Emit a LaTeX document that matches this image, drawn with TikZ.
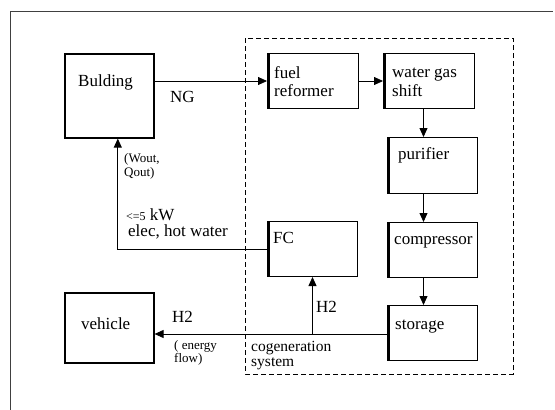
\documentclass[tikz,border=0pt]{standalone}
\usepackage{fontspec}
\setmainfont{Liberation Serif}
\usetikzlibrary{arrows.meta}

\tikzset{
  box/.style={draw, line width=1pt, anchor=north west, inner sep=0pt},
  edge/.style={line width=3pt},
  flow/.style={line width=.8pt, -{Triangle[length=9pt,width=8pt]}},
  lbl/.style={anchor=base west, inner sep=0pt, font=\fontsize{17}{18}\selectfont},
  small/.style={anchor=base west, inner sep=0pt, font=\fontsize{13}{14}\selectfont}
}

\begin{document}
\begin{tikzpicture}[x=1pt,y=-1pt]
				\useasboundingbox (0,0) rectangle (555,410);
				
				% outer frame (only top and left edges show)
				\draw[line width=1pt, black!75] (10,410) -- (10,11) -- (553,11);
				% cogeneration system
				\draw[dashed, line width=.8pt, dash pattern=on 5pt off 3pt] (245,38) rectangle (513,374);
				
				\node[box, line width=1.6pt, minimum width=89pt, minimum height=84pt] (build) at (64,53) {};
				\node[box, line width=1.6pt, minimum width=89pt, minimum height=70pt] (veh) at (64,292) {};
				\node[box, minimum width=91pt, minimum height=55pt] (fuel) at (267,53) {};
				\node[box, minimum width=91pt, minimum height=55pt] (wgs) at (383,53) {};
				\node[box, minimum width=90pt, minimum height=56pt] (pur) at (387,137) {};
				\node[box, minimum width=90pt, minimum height=55pt] (comp) at (387,222) {};
				\node[box, minimum width=90pt, minimum height=55pt] (stor) at (387,305) {};
				\node[box, minimum width=90pt, minimum height=55pt] (fc) at (267,221) {};
				
				\foreach \b in {fuel,wgs,pur,comp,stor,fc}
				\draw[edge] ([xshift=1pt]\b.north west) -- ([xshift=1pt]\b.south west);
				
				% texts in the boxes
				\node[lbl] (tbuild) at (78,86) {Bulding};
				\node[lbl] (tveh) at (81,329) {vehicle};
				\node[lbl] (tfuel) at (274,78) {fuel};
				\node[lbl] (tref) at (274,96) {reformer};
				\node[lbl] (twgs) at (392,77) {water gas};
				\node[lbl] (tshift) at (392,96) {shift};
				\node[lbl] (tpur) at (398,159) {purifier};
				\node[lbl] (tcomp) at (394,244) {compressor};
				\node[lbl] (tstor) at (395,329) {storage};
				\node[lbl] (tfc) at (273,243) {FC};
				
				% connectors
				\draw[flow] (build.east |- fuel.west) -- (fuel.west);
				\draw[flow] (fuel.east) -- (fuel.east -| wgs.west);
				\draw[flow] ([xshift=-9pt]pur.north |- wgs.south) -- ([xshift=-9pt]pur.north);
				\draw[flow] ([xshift=-9pt]pur.south) -- ([xshift=-9pt]comp.north);
				\draw[flow] ([xshift=-9pt]comp.south) -- ([xshift=-9pt]stor.north);
				\coordinate (split) at (fc.south |- 0,334);
				\draw[flow] (stor.west |- split) -- (veh.east |- split);
				\draw[flow] (split) -- (fc.south);
				\draw[flow] (fc.west) -| ([xshift=8.5pt]build.south);
				
				% labels on connectors
				\node[lbl] (lng) at (170,102) {NG};
				\node[small] (lw) at (124,162) {(Wout,};
				\node[small] (lq) at (124,176) {Qout)};
				\node[lbl] (lkw) at (126,220) {{\fontsize{12}{14}\selectfont <=5} kW};
				\node[lbl] (lel) at (128,236) {elec, hot water};
				\node[lbl] (lh2a) at (316,312) {H2};
				\node[lbl] (lh2b) at (172,322) {H2};
				\node[small] (len) at (174,349) {( energy};
				\node[small] (lfl) at (174,362) {flow)};
				\node[lbl, font=\fontsize{15.5}{17}\selectfont] (lco) at (251,351) {cogeneration};
				\node[lbl, font=\fontsize{15.5}{17}\selectfont] (lsy) at (251,366) {system};
			\end{tikzpicture}
\end{document}
